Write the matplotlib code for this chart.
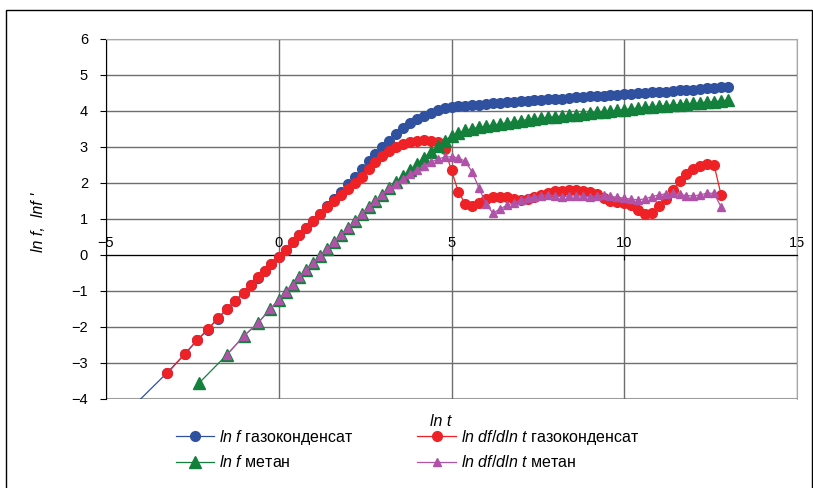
import matplotlib
matplotlib.use("Agg")
import matplotlib.pyplot as plt
from matplotlib.patches import Rectangle

plt.rcParams['font.family'] = ['Liberation Sans', 'DejaVu Sans']
plt.rcParams['mathtext.fontset'] = 'custom'
plt.rcParams['mathtext.rm'] = 'Liberation Sans'
plt.rcParams['mathtext.it'] = 'Liberation Sans:italic'

# ln t for the gas-condensate test
t_gas = [-4.6, -3.23, -2.72, -2.36, -2.05, -1.77, -1.50, -1.26, -1.02, -0.80, -0.61,
         -0.41, -0.21, 0.0, 0.2, 0.4, 0.6, 0.8, 1.0, 1.2, 1.4, 1.6, 1.8, 2.0, 2.2,
         2.4, 2.6, 2.8, 3.0, 3.2, 3.4, 3.6, 3.8, 4.0, 4.2, 4.4, 4.6, 4.8, 5.0, 5.2,
         5.4, 5.6, 5.8, 6.0, 6.2, 6.4, 6.6, 6.8, 7.0, 7.2, 7.4, 7.6, 7.8, 8.0, 8.2,
         8.4, 8.6, 8.8, 9.0, 9.2, 9.4, 9.6, 9.8, 10.0, 10.2, 10.4, 10.6, 10.8, 11.0,
         11.2, 11.4, 11.6, 11.8, 12.0, 12.2, 12.4, 12.6, 12.8, 13.0]
lnf_gas = [-4.57, -3.27, -2.75, -2.37, -2.07, -1.77, -1.50, -1.27, -1.05, -0.83, -0.63,
           -0.44, -0.25, -0.05, 0.15, 0.35, 0.55, 0.75, 0.95, 1.15, 1.35, 1.55, 1.75, 1.96, 2.17,
           2.38, 2.60, 2.80, 2.99, 3.18, 3.37, 3.53, 3.66, 3.78, 3.87, 3.95, 4.02, 4.07, 4.11, 4.13,
           4.15, 4.17, 4.18, 4.19, 4.21, 4.22, 4.24, 4.26, 4.27, 4.28, 4.30, 4.31, 4.32, 4.33, 4.34,
           4.36, 4.38, 4.40, 4.41, 4.42, 4.43, 4.44, 4.45, 4.46, 4.47, 4.49, 4.50, 4.52, 4.53,
           4.54, 4.55, 4.57, 4.58, 4.59, 4.61, 4.63, 4.64, 4.66, 4.67]
# derivative: no value at the first and last time step
dlnf_gas = [-3.29, -2.75, -2.36, -2.06, -1.76, -1.50, -1.27, -1.05, -0.83, -0.62,
            -0.44, -0.25, -0.05, 0.15, 0.35, 0.55, 0.75, 0.95, 1.14, 1.33, 1.50, 1.67, 1.84, 2.01,
            2.18, 2.40, 2.58, 2.76, 2.90, 3.00, 3.08, 3.14, 3.17, 3.19, 3.18, 3.13, 2.95, 2.35, 1.75,
            1.42, 1.36, 1.45, 1.55, 1.60, 1.62, 1.60, 1.56, 1.54, 1.56, 1.62, 1.68, 1.73, 1.77, 1.79,
            1.80, 1.80, 1.79, 1.76, 1.70, 1.58, 1.50, 1.47, 1.45, 1.40, 1.25, 1.15, 1.18, 1.35,
            1.55, 1.80, 2.05, 2.25, 2.40, 2.47, 2.52, 2.50, 1.68]

# ln t for the methane test
t_met = [-2.31, -1.51, -1.00, -0.59, -0.26, 0.0, 0.2, 0.4, 0.6, 0.8, 1.0, 1.2, 1.4,
         1.6, 1.8, 2.0, 2.2, 2.4, 2.6, 2.8, 3.0, 3.2, 3.4, 3.6, 3.8, 4.0, 4.2, 4.4,
         4.6, 4.8, 5.0, 5.2, 5.4, 5.6, 5.8, 6.0, 6.2, 6.4, 6.6, 6.8, 7.0, 7.2, 7.4,
         7.6, 7.8, 8.0, 8.2, 8.4, 8.6, 8.8, 9.0, 9.2, 9.4, 9.6, 9.8, 10.0, 10.2, 10.4,
         10.6, 10.8, 11.0, 11.2, 11.4, 11.6, 11.8, 12.0, 12.2, 12.4, 12.6, 12.8, 13.0]
lnf_met = [-3.56, -2.78, -2.24, -1.88, -1.51, -1.25, -1.02, -0.82, -0.62, -0.42, -0.23, -0.03, 0.16,
           0.36, 0.55, 0.75, 0.94, 1.13, 1.32, 1.50, 1.68, 1.86, 2.03, 2.20, 2.37, 2.53, 2.70, 2.86,
           3.02, 3.18, 3.30, 3.39, 3.46, 3.51, 3.55, 3.58, 3.61, 3.64, 3.67, 3.70, 3.73, 3.76, 3.78,
           3.80, 3.82, 3.84, 3.86, 3.88, 3.90, 3.92, 3.94, 3.96, 3.98, 4.00, 4.02, 4.04, 4.06, 4.08,
           4.10, 4.12, 4.14, 4.15, 4.17, 4.18, 4.20, 4.21, 4.23, 4.25, 4.26, 4.28, 4.30]
dlnf_met = [-2.78, -2.24, -1.88, -1.51, -1.25, -1.02, -0.82, -0.62, -0.42, -0.23, -0.03, 0.16,
            0.36, 0.55, 0.75, 0.94, 1.13, 1.32, 1.50, 1.68, 1.85, 1.98, 2.12, 2.25, 2.37, 2.48, 2.58,
            2.66, 2.72, 2.73, 2.70, 2.60, 2.30, 1.85, 1.42, 1.16, 1.28, 1.38, 1.45, 1.52, 1.57, 1.62,
            1.65, 1.66, 1.64, 1.62, 1.63, 1.65, 1.63, 1.62, 1.64, 1.66, 1.63, 1.60, 1.58, 1.55, 1.53,
            1.56, 1.62, 1.67, 1.70, 1.71, 1.69, 1.65, 1.64, 1.67, 1.72, 1.71, 1.34]

BLUE = '#3050a0'
RED = '#ee2226'
GREEN = '#13803c'
PURPLE = '#b052a8'

fig = plt.figure(figsize=(8.13, 4.88), dpi=100)
ax = fig.add_axes([106 / 813, 1 - 399 / 488, 691 / 813, 360 / 488])

ax.plot(t_gas, lnf_gas, color=BLUE, lw=0.9, marker='o', ms=7, mec=BLUE, mfc=BLUE,
        label=r'$\mathit{ln\ f}$ газоконденсат', zorder=3)
ax.plot(t_gas[1:-1], dlnf_gas, color=RED, lw=0.9, marker='o', ms=7, mec=RED, mfc=RED,
        label=r'$\mathit{ln\ df/dln\ t}$ газоконденсат', zorder=4)
ax.plot(t_met, lnf_met, color=GREEN, lw=0.9, marker='^', ms=8, mec=GREEN, mfc=GREEN,
        label=r'$\mathit{ln\ f}$ метан', zorder=5)
ax.plot(t_met[1:-1], dlnf_met, color=PURPLE, lw=0.9, marker='^', ms=6.3, mec=PURPLE, mfc=PURPLE,
        label=r'$\mathit{ln\ df/dln\ t}$ метан', zorder=6)

ax.set_xlim(-5, 15)
ax.set_ylim(-4, 6)
ax.set_xticks([-5, 0, 5, 10, 15])
ax.set_yticks(range(-4, 7))
ax.grid(True, color='#6e6e6e', lw=1.0, zorder=0)

# x axis crosses at y = 0, labels sit above it
ax.spines['bottom'].set_position(('data', 0))
ax.spines['bottom'].set_color('black')
ax.spines['left'].set_color('black')
for s in ('top', 'right'):
    ax.spines[s].set_color('#a8a8a8')
ax.axhline(-4, color='#a8a8a8', lw=1.5, zorder=1)
ax.tick_params(axis='x', direction='out', length=3.6, pad=-17, labelsize=10.5, colors='black')
ax.tick_params(axis='y', direction='out', length=4.5, pad=8.5, labelsize=10.5)

fig.text(441 / 813, 1 - 421 / 488, 'ln t', fontsize=11.5, style='italic', ha='center', va='center')
fig.text(38 / 813, 1 - 222 / 488, "ln f,  lnf '", fontsize=11.5, style='italic', rotation=90,
         ha='center', va='center')

h, l = ax.get_legend_handles_labels()
order = [0, 2, 1, 3]
fig.legend([h[i] for i in order], [l[i] for i in order], ncol=2, frameon=False,
           loc='upper left', bbox_to_anchor=(176 / 813, 1 - 428 / 488), fontsize=11.5,
           handlelength=2.4, handletextpad=0.3, columnspacing=4.0, labelspacing=0.45,
           borderaxespad=0, borderpad=0)

fig.patches.append(Rectangle((6 / 813, -0.01), 806 / 813, 1.01 - 10 / 488, transform=fig.transFigure,
                             fill=False, edgecolor='black', lw=1.0))

fig.savefig('out.png', dpi=100)
